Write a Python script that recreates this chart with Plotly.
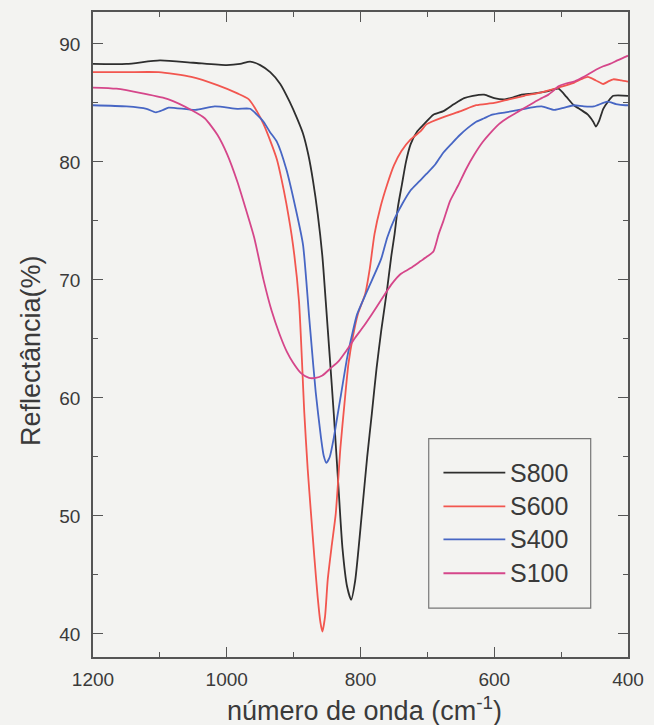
import plotly.graph_objects as go

# ---------------- data ----------------
series_names = ["S800", "S600", "S400", "S100"]
series_colors = ["#2e2e2e", "#f2564f", "#4766c4", "#d5468a"]

s800_x = [1200, 1150, 1100, 1050, 1000, 980, 965, 950, 935, 920, 906, 895, 886, 878, 871, 864, 857, 852,
          846, 840, 833, 827, 820, 814, 808, 798, 790, 783, 776, 769, 760, 754, 749, 744, 738, 732, 725,
          715, 705, 691, 676, 660, 645, 632, 615, 600, 584, 570, 559, 540, 519, 504, 492, 481, 470, 460,
          452, 448, 443, 437, 430, 422, 400]
s800_y = [88.3, 88.3, 88.6, 88.4, 88.2, 88.3, 88.5, 88.2, 87.6, 86.6, 85.1, 83.7, 82.4, 80.6, 78.4, 75.6,
          72.0, 68.2, 63.5, 58.7, 52.5, 47.3, 44.0, 42.9, 44.5, 50.2, 55.0, 58.7, 62.5, 65.7, 69.3, 72.0,
          73.9, 76.2, 78.1, 80.0, 81.5, 82.6, 83.2, 84.0, 84.3, 84.9, 85.4, 85.6, 85.7, 85.4, 85.3, 85.5,
          85.7, 85.8, 86.0, 86.2, 85.5, 84.8, 84.4, 84.0, 83.4, 83.0, 83.5, 84.5, 85.1, 85.6, 85.6]

s600_x = [1200, 1150, 1102, 1053, 1014, 984, 967, 955, 945, 935, 925, 918, 911, 901, 892, 884, 879, 874,
          869, 864, 860, 857, 853, 849, 843, 837, 830, 824, 818, 811, 804, 793, 786, 779, 770, 760, 750,
          739, 725, 710, 701, 676, 650, 627, 600, 578, 555, 529, 504, 481, 470, 460, 448, 437, 430, 422,
          410, 400]
s600_y = [87.6, 87.6, 87.6, 87.2, 86.5, 85.8, 85.3, 84.3, 83.2, 81.8, 80.2, 78.5, 76.5, 73.0, 68.2, 58.7,
          54.0, 50.2, 46.5, 43.1, 41.0, 40.2, 41.5, 44.6, 47.5, 50.2, 55.8, 59.5, 62.9, 65.3, 67.1, 68.8,
          71.0, 73.9, 76.2, 78.1, 79.7, 80.9, 81.9, 82.6, 83.2, 83.8, 84.3, 84.8, 85.0, 85.3, 85.6, 85.9,
          86.3, 86.7, 87.0, 87.2, 86.9, 86.6, 86.8, 87.0, 86.9, 86.8]

s400_x = [1200, 1150, 1120, 1106, 1095, 1087, 1047, 1018, 984, 965, 955, 945, 935, 925, 911, 896, 886, 881,
          877, 874, 867, 859, 855, 851, 846, 840, 835, 830, 820, 812, 805, 789, 769, 760, 749, 737, 725,
          713, 701, 688, 676, 663, 651, 639, 627, 615, 603, 583, 563, 546, 529, 510, 495, 481, 466, 451,
          431, 418, 404, 400]
s400_y = [84.8, 84.7, 84.5, 84.2, 84.4, 84.6, 84.4, 84.7, 84.5, 84.5, 84.0, 83.4, 82.5, 81.7, 79.4, 75.8,
          73.0, 69.9, 67.0, 65.0, 60.5, 56.6, 55.1, 54.5, 55.0, 56.6, 58.3, 60.0, 63.4, 65.5, 67.1, 69.2,
          71.8, 73.6, 75.2, 76.5, 77.6, 78.3, 79.0, 79.8, 80.8, 81.6, 82.3, 82.9, 83.4, 83.7, 84.0, 84.2,
          84.4, 84.6, 84.7, 84.4, 84.6, 84.8, 84.7, 84.7, 85.1, 84.9, 84.8, 84.8]

s100_x = [1200, 1165, 1126, 1087, 1053, 1033, 1014, 999, 984, 972, 959, 945, 933, 921, 910, 901, 889, 877,
          867, 857, 845, 833, 820, 808, 795, 783, 768, 754, 740, 725, 710, 700, 691, 683, 676, 666, 654,
          642, 630, 617, 605, 593, 578, 563, 551, 539, 529, 519, 510, 504, 495, 481, 470, 460, 448, 437,
          427, 416, 404, 400]
s100_y = [86.3, 86.2, 85.8, 85.3, 84.4, 83.7, 82.3, 80.6, 78.3, 76.1, 73.6, 70.0, 67.4, 65.4, 63.9, 63.0,
          62.1, 61.7, 61.7, 61.9, 62.5, 63.1, 64.1, 65.1, 66.1, 67.1, 68.4, 69.6, 70.5, 71.0, 71.6, 72.0,
          72.4, 73.9, 75.0, 76.7, 78.0, 79.4, 80.6, 81.7, 82.5, 83.2, 83.8, 84.3, 84.7, 85.1, 85.4, 85.7,
          86.1, 86.4, 86.6, 86.8, 87.1, 87.4, 87.8, 88.1, 88.3, 88.6, 88.9, 89.0]

x_tick_vals = [1200, 1000, 800, 600, 400]
y_tick_vals = [40, 50, 60, 70, 80, 90]
x_title = "número de onda (cm<sup>-1</sup>)"
y_title = "Reflectância(%)"

# ---------------- figure ----------------
W, H = 654, 725
ml, mr, mt, mb = 93, 16, 10, 68
pw, ph = W - ml - mr, H - mt - mb

def px_x(p):
    return (p - ml) / pw

def px_y(p):
    return (H - mb - p) / ph

FONT = "Liberation Sans, Arial, sans-serif"
AX = "#555555"
TXT = "#3a3a3a"
BG = "#f3f3f1"

xs = [s800_x, s600_x, s400_x, s100_x]
ys = [s800_y, s600_y, s400_y, s100_y]

fig = go.Figure()
for name, col, x, y in zip(series_names, series_colors, xs, ys):
    fig.add_trace(go.Scatter(x=x, y=y, mode="lines", name=name,
                             line=dict(color=col, width=1.8, shape="spline", smoothing=0.6),
                             showlegend=False))

axis_common = dict(showline=True, linecolor=AX, linewidth=1.5, mirror="ticks", ticks="inside",
                   tickcolor=AX, tickwidth=1.3, ticklen=10, showgrid=False, zeroline=False,
                   tickfont=dict(family=FONT, size=19, color=TXT))

fig.update_xaxes(range=[1200, 400], tickvals=x_tick_vals, ticklabelstandoff=4,
                 minor=dict(dtick=100, ticks="inside", ticklen=5, tickcolor=AX, tickwidth=1.3, showgrid=False),
                 **axis_common)
fig.update_yaxes(range=[38.05, 92.7], tickvals=y_tick_vals, ticklabelstandoff=7,
                 minor=dict(dtick=5, ticks="inside", ticklen=5, tickcolor=AX, tickwidth=1.3, showgrid=False),
                 **axis_common)

annotations = [
    dict(text=x_title, x=px_x(370), y=px_y(709), xref="paper", yref="paper", showarrow=False,
         xanchor="center", yanchor="middle", font=dict(family=FONT, size=27, color=TXT)),
    dict(text=y_title, x=px_x(30), y=px_y(350), xref="paper", yref="paper", showarrow=False,
         xanchor="center", yanchor="middle", textangle=-90, font=dict(family=FONT, size=27, color=TXT)),
]

shapes = [dict(type="rect", xref="paper", yref="paper", x0=px_x(435), x1=px_x(600), y0=px_y(608),
               y1=px_y(438), line=dict(color="#777777", width=1.2), fillcolor="rgba(0,0,0,0)")]

leg_y = [472, 506, 539, 573]
for name, col, ly in zip(series_names, series_colors, leg_y):
    shapes.append(dict(type="line", xref="paper", yref="paper", x0=px_x(450), x1=px_x(513),
                       y0=px_y(ly), y1=px_y(ly), line=dict(color=col, width=1.8)))
    annotations.append(dict(text=name, x=px_x(516), y=px_y(ly), xref="paper", yref="paper",
                            showarrow=False, xanchor="left", yanchor="middle",
                            font=dict(family=FONT, size=25, color=TXT)))

fig.update_layout(width=W, height=H, margin=dict(l=ml, r=mr, t=mt, b=mb),
                  paper_bgcolor=BG, plot_bgcolor=BG, showlegend=False,
                  annotations=annotations, shapes=shapes)

fig.write_html("out.html")
